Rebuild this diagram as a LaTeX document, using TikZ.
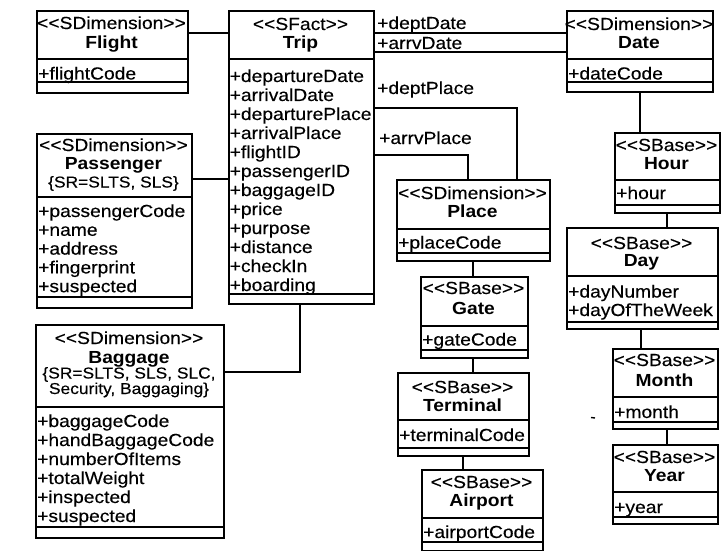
\documentclass[tikz,border=0pt]{standalone}
\usepackage{fontspec}
\setmainfont{Liberation Sans}[FakeStretch=1.1, Ligatures=TeXOff, UprightFeatures={FakeBold=0.3}]
\tikzset{
  cls/.style={draw, line width=1.9pt, inner sep=0pt, anchor=north west},
  sep/.style={line width=1.9pt},
  asep/.style={line width=2.3pt},
  link/.style={line width=1.9pt},
  st/.style={anchor=base, inner sep=0pt, font=\fontsize{17.5}{19}\selectfont},
  nm/.style={anchor=base, inner sep=0pt, font=\fontsize{17.5}{19}\selectfont\bfseries},
  cn/.style={anchor=base, inner sep=0pt, font=\fontsize{15.8}{17}\selectfont},
  attr/.style={anchor=base west, inner sep=0pt, font=\fontsize{17.5}{19}\selectfont},
  lbl/.style={anchor=base west, inner sep=0pt, font=\fontsize{17.5}{19}\selectfont},
}
% stereotype text with plain angle brackets
\newcommand\stereo[1]{\textless\kern0pt\textless#1\textgreater\kern0pt\textgreater}
% class box: name, left, top, right, bottom, header separator, attribute separator
\newcommand\umlclass[7]{%
  \node[cls, minimum width={#4-#2}, minimum height={#5-#3}] (#1) at (#2,#3) {};
  \draw[sep] (#1.west |- 0,#6) -- (#1.east |- 0,#6);
  \draw[asep] (#1.west |- 0,#7) -- (#1.east |- 0,#7);
}
\begin{document}
\begin{tikzpicture}[x=1pt,y=-1pt]
\useasboundingbox (0,0) rectangle (724,551);

% ---- classes ----
\umlclass{flight}{36}{10}{187}{92}{59}{82}
\umlclass{trip}{228}{10}{373}{303}{59}{294}
\umlclass{date}{566}{10}{712}{91}{59}{82}
\umlclass{passenger}{36}{133}{191}{307}{197}{297}
\umlclass{baggage}{35}{324}{223}{537}{407}{527}
\umlclass{place}{396}{179}{549}{260}{229}{253}
\umlclass{gate}{420}{276}{527}{357}{326}{350}
\umlclass{terminal}{397}{372}{528}{455}{420}{448}
\umlclass{airport}{421}{469}{542}{550}{518}{542}
\umlclass{hour}{614}{132}{719}{212}{180}{205}
\umlclass{day}{566}{227}{717}{328}{276}{322}
\umlclass{month}{612}{348}{717}{428}{397}{422}
\umlclass{year}{612}{444}{717}{523}{492}{517}

% ---- headers ----
\node[st] (flight-st) at (111.5,29) {\stereo{SDimension}};
\node[nm] (flight-nm) at (111.5,48.5) {Flight};
\node[st] (trip-st) at (300.5,30) {\stereo{SFact}};
\node[nm] (trip-nm) at (300.5,48.5) {Trip};
\node[st] (date-st) at (639,30) {\stereo{SDimension}};
\node[nm] (date-nm) at (639,48.5) {Date};
\node[st] (passenger-st) at (113.5,151) {\stereo{SDimension}};
\node[nm] (passenger-nm) at (113.5,169.5) {Passenger};
\node[cn] (passenger-cn) at (113.5,187.5) {\{SR=SLTS, SLS\}};
\node[st] (baggage-st) at (129,344) {\stereo{SDimension}};
\node[nm] (baggage-nm) at (129,363) {Baggage};
\node[cn] (baggage-cn1) at (129,378.5) {\{SR=SLTS, SLS, SLC,};
\node[cn] (baggage-cn2) at (129,394) {Security, Baggaging\}};
\node[st] (place-st) at (472.5,199) {\stereo{SDimension}};
\node[nm] (place-nm) at (472.5,218) {Place};
\node[st] (gate-st) at (473.5,294) {\stereo{SBase}};
\node[nm] (gate-nm) at (473.5,314) {Gate};
\node[st] (terminal-st) at (462.5,393) {\stereo{SBase}};
\node[nm] (terminal-nm) at (462.5,411) {Terminal};
\node[st] (airport-st) at (481.5,488) {\stereo{SBase}};
\node[nm] (airport-nm) at (481.5,506) {Airport};
\node[st] (hour-st) at (666.5,151) {\stereo{SBase}};
\node[nm] (hour-nm) at (666.5,169) {Hour};
\node[st] (day-st) at (641.5,249) {\stereo{SBase}};
\node[nm] (day-nm) at (641.5,266) {Day};
\node[st] (month-st) at (664.5,366) {\stereo{SBase}};
\node[nm] (month-nm) at (664.5,386) {Month};
\node[st] (year-st) at (664.5,463) {\stereo{SBase}};
\node[nm] (year-nm) at (664.5,481) {Year};

% ---- attributes ----
\node[attr] (flight-a1) at (38,79.5) {+flightCode};
\foreach \t [count=\i] in {+departureDate,+arrivalDate,+departurePlace,+arrivalPlace,
    +flightID,+passengerID,+baggageID,+price,+purpose,+distance,+checkIn,+boarding}
  \node[attr] (trip-a\i) at (229.5,{82+19*(\i-1)}) {\t};
\node[attr] (date-a1) at (568,79.5) {+dateCode};
\foreach \t [count=\i] in {+passengerCode,+name,+address,+fingerprint,+suspected}
  \node[attr] (passenger-a\i) at (38,{217+18.8*(\i-1)}) {\t};
\foreach \t [count=\i] in {+baggageCode,+handBaggageCode,+numberOfItems,+totalWeight,+inspected,+suspected}
  \node[attr] (baggage-a\i) at (37,{427+19*(\i-1)}) {\t};
\node[attr] (place-a1) at (398,248.5) {+placeCode};
\node[attr] (gate-a1) at (422,345.5) {+gateCode};
\node[attr] (terminal-a1) at (399,441) {+terminalCode};
\node[attr] (airport-a1) at (423,538) {+airportCode};
\node[attr] (hour-a1) at (616,199) {+hour};
\node[attr] (day-a1) at (568,297.5) {+dayNumber};
\node[attr] (day-a2) at (568,316) {+dayOfTheWeek};
\node[attr] (month-a1) at (614,418) {+month};
\node[attr] (year-a1) at (614,513) {+year};

% ---- associations ----
\draw[link] (flight.east |- 0,33) -- (trip.west |- 0,33);
\draw[link] (passenger.east |- 0,179) -- (trip.west |- 0,179);
\draw[link] (trip.south -| 300,0) |- (baggage.east |- 0,372);
\draw[link] (trip.east |- 0,33) -- (date.west |- 0,33);
\draw[link] (trip.east |- 0,52) -- (date.west |- 0,52);
\draw[link] (trip.east |- 0,108) -| (place.north -| 517,0);
\draw[link] (trip.east |- 0,155) -| (place.north -| 468,0);
\draw[link] (place.south -| 473,0) -- (gate.north -| 473,0);
\draw[link] (gate.south -| 473,0) -- (terminal.north -| 473,0);
\draw[link] (terminal.south -| 463,0) -- (airport.north -| 463,0);
\draw[link] (date.south -| 640,0) -- (hour.north -| 640,0);
\draw[link] (hour.south -| 667,0) -- (day.north -| 667,0);
\draw[link] (day.south -| 641,0) -- (month.north -| 641,0);
\draw[link] (month.south -| 667,0) -- (year.north -| 667,0);

% ---- role names ----
\node[lbl] (l-dd) at (377,29) {+deptDate};
\node[lbl] (l-ad) at (377,49) {+arrvDate};
\node[lbl] (l-dp) at (377,94) {+deptPlace};
\node[lbl] (l-ap) at (379,144) {+arrvPlace};

% stray mark left of Month
\draw[line width=1.4pt] (591,417.5) -- (595,418);
\end{tikzpicture}
\end{document}
